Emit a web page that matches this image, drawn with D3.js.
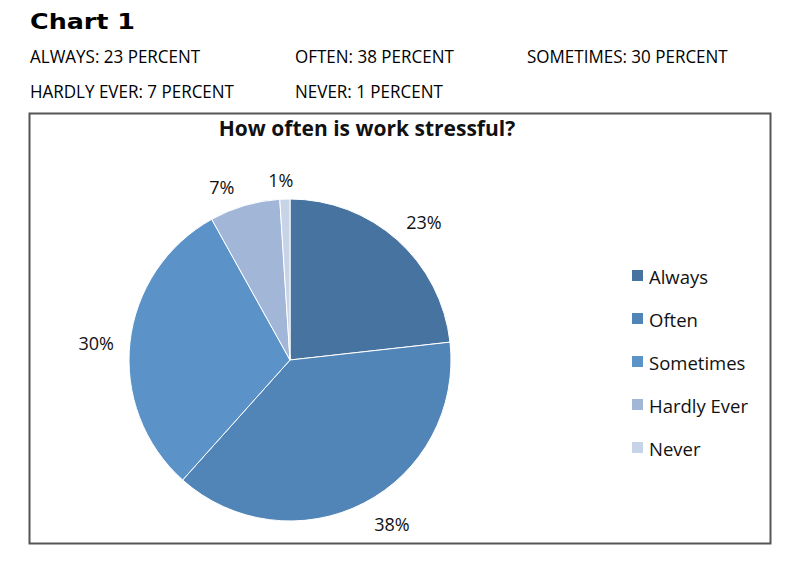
<!DOCTYPE html>
<html>
<head>
<meta charset="utf-8">
<script src="https://cdn.jsdelivr.net/npm/d3@7"></script>
<style>
  body { margin: 0; background: #fff; }
  text { font-family: "Open Sans", "DejaVu Sans", sans-serif; fill: #111; }
</style>
</head>
<body>
<div id="chart"></div>
<script>
// data
var categories = ["Always", "Often", "Sometimes", "Hardly Ever", "Never"];
var values = [23, 38, 30, 7, 1];
var summaryLabels = ["ALWAYS: 23 PERCENT", "OFTEN: 38 PERCENT", "SOMETIMES: 30 PERCENT",
                     "HARDLY EVER: 7 PERCENT", "NEVER: 1 PERCENT"];
var colors = ["#46739f", "#5184b7", "#5b93c9", "#a2b7d7", "#c7d3e7"];

var width = 800, height = 566;

var svg = d3.select("#chart")
    .append("svg")
        .attr("width", width)
        .attr("height", height);

// heading
svg.append("text")
    .attr("x", 30).attr("y", 29)
    .style("font-family", "'DejaVu Sans', sans-serif")
    .style("font-weight", "bold")
    .style("font-size", "22px")
    .style("fill", "#000")
    .attr("textLength", 105)
    .attr("lengthAdjust", "spacingAndGlyphs")
    .text("Chart 1");

// summary rows
var colX = [30, 295, 527];
summaryLabels.forEach(function(s, i) {
    var t = svg.append("text")
        .attr("x", colX[i % 3])
        .attr("y", i < 3 ? 63 : 98)
        .style("font-size", "19px")
        .style("fill", "#000")
        .text(s);
    // squeeze to the narrow look of the original font
    var w = t.node().getComputedTextLength();
    t.attr("textLength", w * 0.895).attr("lengthAdjust", "spacingAndGlyphs");
});

// chart frame
svg.append("rect")
    .attr("x", 29.5).attr("y", 113.5)
    .attr("width", 741).attr("height", 430)
    .attr("fill", "none")
    .attr("stroke", "#555")
    .attr("stroke-width", 2);

svg.append("text")
    .attr("x", 367).attr("y", 136)
    .attr("text-anchor", "middle")
    .style("font-weight", "bold")
    .style("font-size", "21px")
    .text("How often is work stressful?");

// pie
var cx = 290, cy = 360, r = 161;

var pie = d3.pie().sort(null).value(function(d) { return d; });
var arcs = pie(values);
var arc = d3.arc().innerRadius(0).outerRadius(r);
var labelArc = d3.arc().innerRadius(192).outerRadius(192);

var g = svg.append("g")
    .attr("transform", "translate(" + cx + "," + cy + ")");

g.selectAll("path")
    .data(arcs)
    .enter()
    .append("path")
        .attr("d", arc)
        .attr("fill", function(d, i) { return colors[i]; })
        .attr("stroke", "#fff")
        .attr("stroke-width", 1);

// small nudges like Excel's best-fit placement
var labelOffsets = [[6, 5], [14, -7], [-3, 4], [-14, 11], [-3, 12]];
g.selectAll("text.pct")
    .data(arcs)
    .enter()
    .append("text")
        .attr("class", "pct")
        .attr("text-anchor", "middle")
        .attr("dominant-baseline", "central")
        .style("font-size", "18px")
        .attr("x", function(d, i) { return labelArc.centroid(d)[0] + labelOffsets[i][0]; })
        .attr("y", function(d, i) { return labelArc.centroid(d)[1] + labelOffsets[i][1]; })
        .text(function(d) { return d.data + "%"; });

// legend
var legend = svg.append("g")
    .attr("transform", "translate(632,276)");

var rows = legend.selectAll("g")
    .data(categories)
    .enter()
    .append("g")
        .attr("transform", function(d, i) { return "translate(0," + (i * 43) + ")"; });

rows.append("rect")
    .attr("x", 0).attr("y", -6)
    .attr("width", 11).attr("height", 11)
    .attr("fill", function(d, i) { return colors[i]; });

rows.append("text")
    .attr("x", 17)
    .attr("y", 0)
    .attr("dominant-baseline", "central")
    .style("font-size", "18.5px")
    .text(function(d) { return d; });
</script>
</body>
</html>
